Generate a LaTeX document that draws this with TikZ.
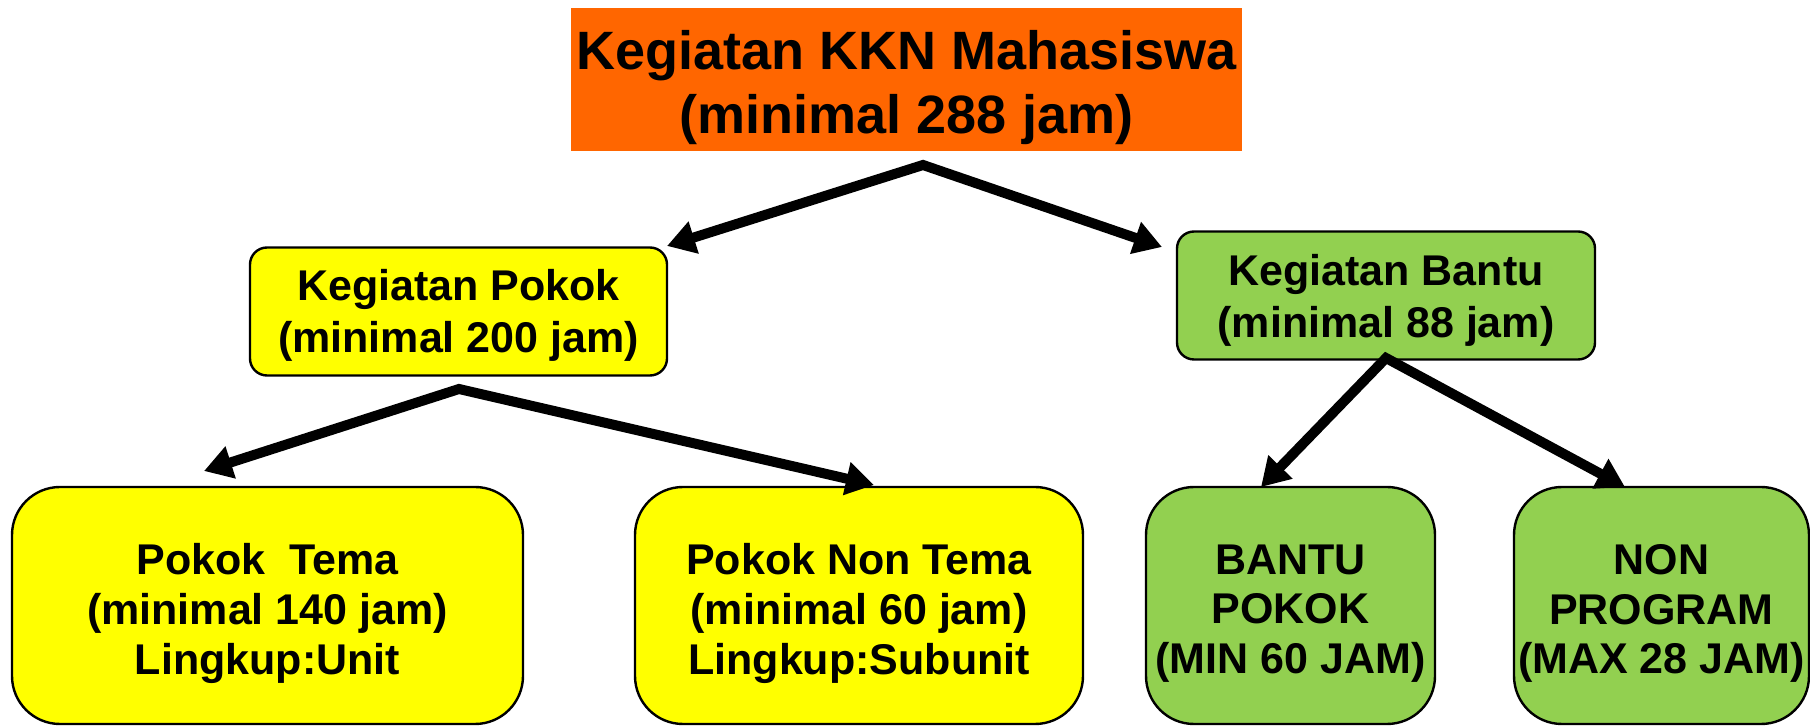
\documentclass[tikz,border=0pt]{standalone}
\usepackage{fontspec}
\setmainfont{Liberation Sans}
\usetikzlibrary{arrows.meta}
\definecolor{korange}{HTML}{FF6600}
\definecolor{kyellow}{HTML}{FFFF00}
\definecolor{kgreen}{HTML}{92D050}
\begin{document}
\begin{tikzpicture}[x=0.5pt,y=-0.5pt,
  txt/.style={align=center,inner sep=0pt,font=\bfseries\fontsize{21.5}{24.85}\selectfont},
  midtxt/.style={txt,font=\bfseries\fontsize{21.5}{26}\selectfont},
  toptxt/.style={txt,font=\bfseries\fontsize{27}{31.75}\selectfont},
  topbox/.style={fill=korange,inner sep=0pt,minimum width=335.5pt,minimum height=71.5pt},
  midbox/.style={draw=black,line width=1.2pt,inner sep=0pt,rounded corners=8.5pt,minimum height=64pt},
  lowbox/.style={draw=black,line width=1.2pt,inner sep=0pt,rounded corners=24pt,minimum height=118.5pt},
  conn/.style={line width=5pt,line join=miter,{Triangle[length=14pt,width=16pt]}-{Triangle[length=14pt,width=16pt]}}
]
\useasboundingbox (0,0) rectangle (1810,726);
\fill[white] (0,0) rectangle (1810,726);

% boxes
\node[topbox] (top) at (906.5,79.5) {};
\node[midbox,fill=kyellow,minimum width=208.5pt] (pokok) at (458.5,311.5) {};
\node[midbox,fill=kgreen,minimum width=209pt] (bantu) at (1386,295.5) {};
\node[lowbox,fill=kyellow,minimum width=255.5pt] (tema) at (267.5,605.5) {};
\node[lowbox,fill=kyellow,minimum width=224pt] (nontema) at (859,605.5) {};
\node[lowbox,fill=kgreen,minimum width=144.5pt] (bpokok) at (1290.5,605.5) {};
\node[lowbox,fill=kgreen,minimum width=147.5pt] (nonprog) at (1661.5,605.5) {};

% texts
\node[toptxt] (top-t) at ([yshift=-4pt]top.center) {Kegiatan KKN Mahasiswa\\(minimal 288 jam)};
\node[midtxt] (pokok-t) at ([yshift=-2pt]pokok.center) {Kegiatan Pokok\\(minimal 200 jam)};
\node[midtxt] (bantu-t) at ([yshift=-2.5pt]bantu.center) {Kegiatan Bantu\\(minimal 88 jam)};
\node[txt] (tema-t) at ([yshift=-4pt]tema.center) {Pokok~~Tema\\(minimal 140 jam)\\Lingkup:Unit};
\node[txt] (nontema-t) at ([yshift=-4pt]nontema.center) {Pokok Non Tema\\(minimal 60 jam)\\Lingkup:Subunit};
\node[txt] (bpokok-t) at ([yshift=-4pt]bpokok.center) {BANTU\\POKOK\\(MIN 60 JAM)};
\node[txt] (nonprog-t) at ([yshift=-4pt]nonprog.center) {NON\\PROGRAM\\(MAX 28 JAM)};

% connector points
\coordinate (ta) at (923,165);
\coordinate (ta-l) at (667,246);
\coordinate (ta-r) at (1162,247);
\coordinate (pa) at (459,389);
\coordinate (pa-l) at (204,471);
\coordinate (pa-r) at (874,485);
\coordinate (ba) at (1386,358);
\coordinate (ba-l) at (1261,487);
\coordinate (ba-r) at (1625,487);

\draw[conn] (ta-l) -- (ta) -- (ta-r);
\draw[conn] (pa-l) -- (pa) -- (pa-r);
\draw[conn] (ba-l) -- (ba) -- (ba-r);
\end{tikzpicture}
\end{document}
